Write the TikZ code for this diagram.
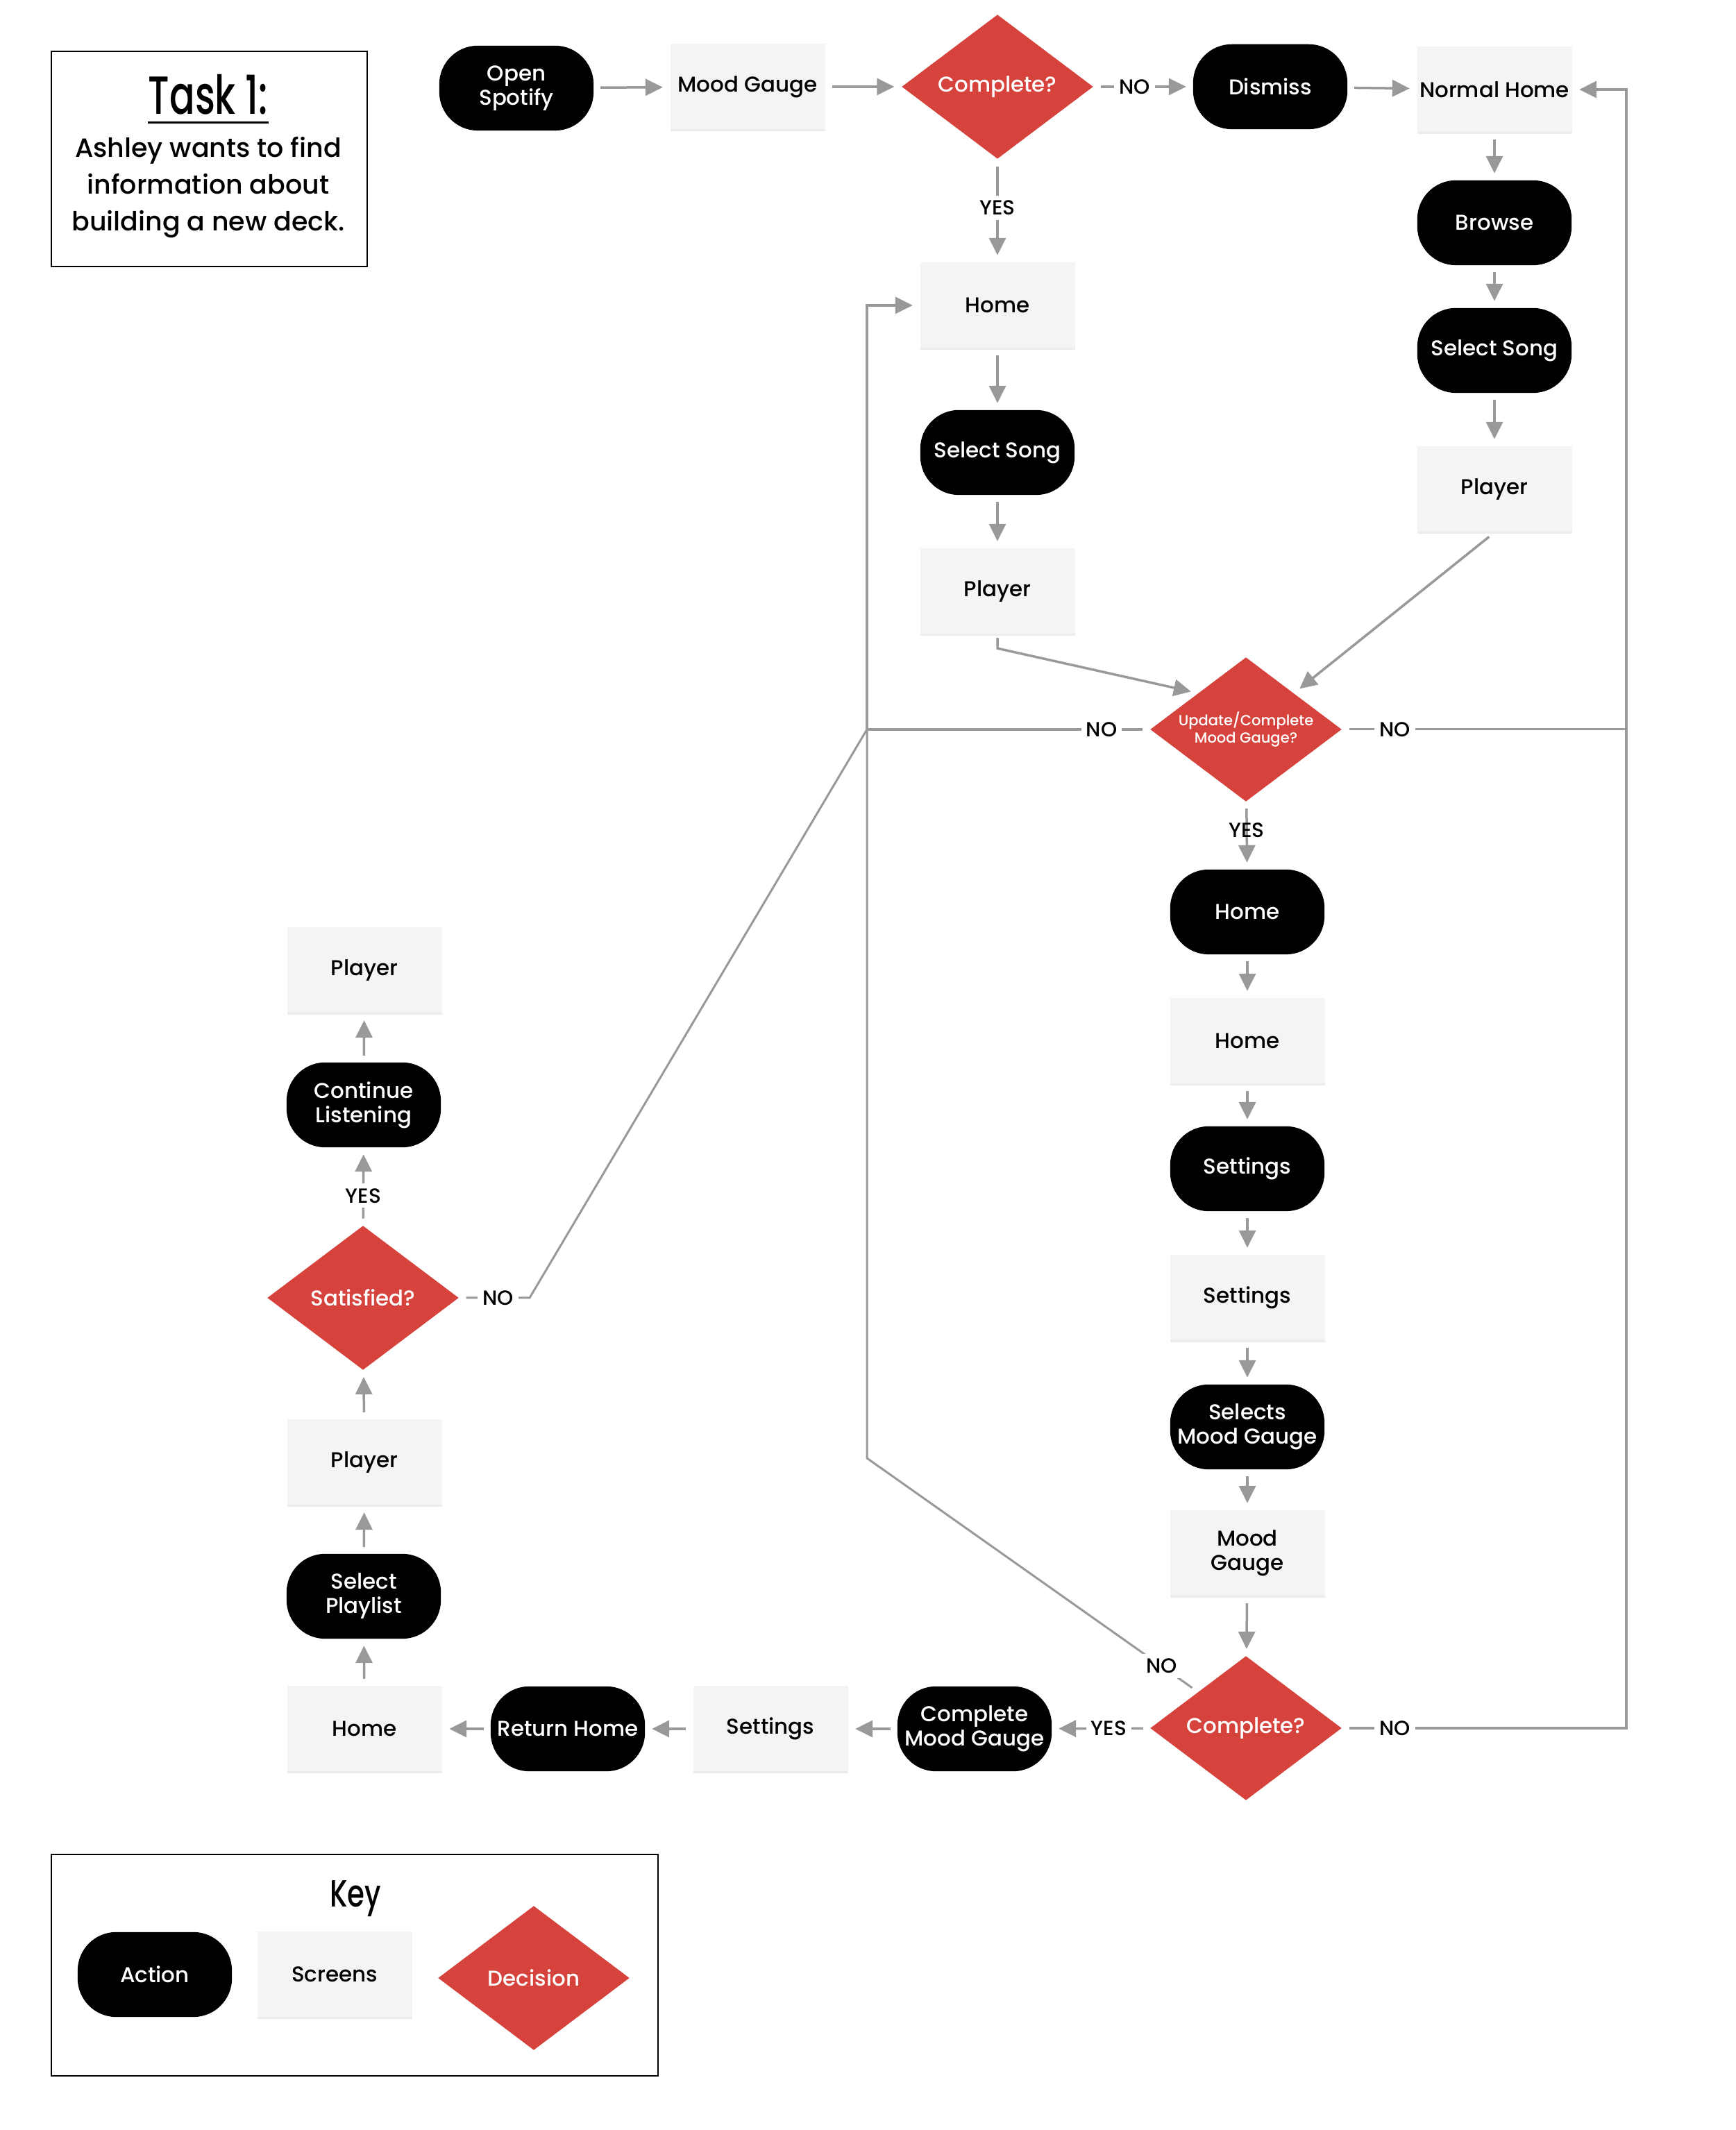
\documentclass[tikz,border=0pt]{standalone}
\usepackage{fontspec}
\setmainfont{Poppins Medium}
\usepackage{xcolor}
\usepackage{tikz}
\usetikzlibrary{shapes.geometric,arrows.meta,shadows}

\definecolor{deckred}{HTML}{D6433D}
\definecolor{screenfill}{HTML}{F4F4F2}
\definecolor{arrowgray}{HTML}{999999}

\begin{document}
\begin{tikzpicture}[
    font=\fontsize{8.8}{10}\selectfont,
    action/.style={
        draw=black,
        fill=black,
        text=white,
        rectangle,
        rounded corners=0.55cm,
        align=center,
        minimum width=2.21cm,
        minimum height=1.21cm,
        inner sep=0pt
    },
    screen/.style={
        fill=screenfill,
        rectangle,
        align=center,
        minimum width=2.23cm,
        minimum height=1.23cm,
        inner sep=0pt,
        drop shadow={opacity=0.15, shadow xshift=0pt, shadow yshift=-0.8pt}
    },
    decision/.style={
        diamond,
        aspect=1.33,
        fill=deckred,
        text=white,
        align=center,
        minimum width=2.76cm,
        minimum height=2.08cm,
        inner sep=0pt
    },
    frame/.style={draw, rectangle, line width=0.6pt},
    arrow/.style={-{Triangle[length=0.25cm,width=0.24cm]}, line width=0.035cm, draw=arrowgray, shorten >=0.1cm, shorten <=0.1cm},
    link/.style={line width=0.03cm, draw=arrowgray, shorten <=0.1cm},
    lbl/.style={fill=white, text=black, inner sep=2pt, font=\fontsize{8.4}{9}\selectfont},
    lblbare/.style={text=black, inner sep=2pt, font=\fontsize{8.4}{9}\selectfont}
]

\useasboundingbox (0,0) rectangle (25,30.69);

% Task box
\node[frame, minimum width=4.55cm, minimum height=3.10cm] (task) at (3.015,28.40) {};
\node[anchor=base, inner sep=0pt] (tasktitle) at (3.0,29.04) {\scalebox{0.7}[1]{\fontsize{22}{22}\selectfont Task 1:}};
\draw[line width=0.03cm] ([yshift=-0.12cm]tasktitle.base west) -- ([yshift=-0.12cm]tasktitle.base east);
\node[align=center, font=\fontsize{10.8}{15}\selectfont] (tasktext) at (3.0,27.99)
{Ashley wants to find\\information about\\building a new deck.};

% Top row
\node[action] (openspot) at (7.44,29.42) {Open\\Spotify};
\node[screen] (moodg) at (10.77,29.44) {Mood Gauge};
\node[decision] (comp1) at (14.37,29.44) {Complete?};
\node[action] (dismiss) at (18.30,29.44) {Dismiss};
\node[screen] (normhome) at (21.53,29.40) {Normal Home};

% Right column
\node[action] (browse) at (21.53,27.48) {Browse};
\node[action] (songR) at (21.53,25.64) {Select Song};
\node[screen] (playerR) at (21.53,23.64) {Player};

% Middle column
\node[screen] (homeM) at (14.37,26.29) {Home};
\node[action] (songM) at (14.37,24.17) {Select Song};
\node[screen] (playerM) at (14.37,22.17) {Player};

% Update decision
\node[decision, font=\fontsize{6}{7}\selectfont] (update) at (17.95,20.18) {Update/Complete\\Mood Gauge?};

% Settings column
\node[action] (homeact) at (17.97,17.55) {Home};
\node[screen] (homescr) at (17.97,15.69) {Home};
\node[action] (setact) at (17.97,13.85) {Settings};
\node[screen] (setscr) at (17.97,11.99) {Settings};
\node[action] (selmood) at (17.97,10.13) {Selects\\Mood Gauge};
\node[screen] (moodscr) at (17.97,8.31) {Mood\\Gauge};
\node[decision] (comp2) at (17.95,5.79) {Complete?};

% Bottom row
\node[action] (compmood) at (14.04,5.78) {Complete\\Mood Gauge};
\node[screen] (setscr2) at (11.10,5.78) {Settings};
\node[action] (rethome) at (8.18,5.78) {Return Home};
\node[screen] (homebot) at (5.25,5.78) {Home};

% Left column
\node[action] (selplay) at (5.24,7.69) {Select\\Playlist};
\node[screen] (playerbot) at (5.25,9.62) {Player};
\node[decision] (satis) at (5.23,11.99) {Satisfied?};
\node[action] (contlist) at (5.24,14.77) {Continue\\Listening};
\node[screen] (playertop) at (5.25,16.71) {Player};

% Line corners
\coordinate (jtop) at (12.49,26.29);
\coordinate (jleft) at (12.49,20.18);
\coordinate (jlow) at (12.49,9.68);
\coordinate (sbend) at (7.63,11.99);
\coordinate (rtop) at (23.43,29.40);
\coordinate (rmid) at (23.43,20.18);
\coordinate (rbot) at (23.43,5.79);

% Key
\node[frame, minimum width=8.74cm, minimum height=3.19cm] (key) at (5.11,2.375) {};
\node[anchor=base, inner sep=0pt] (keytitle) at (5.12,3.21) {\scalebox{0.74}[1]{\fontsize{15.5}{15.5}\selectfont Key}};
\node[action] (keyact) at (2.23,2.24) {Action};
\node[screen] (keyscr) at (4.82,2.24) {Screens};
\node[decision] (keydec) at (7.69,2.19) {Decision};

% Arrows: top row
\draw[arrow] (openspot) -- (moodg);
\draw[arrow] (moodg) -- (comp1);
\draw[arrow] (comp1) -- node[lbl, pos=0.41] {NO} (dismiss);
\draw[arrow] (dismiss) -- (normhome);
\draw[arrow] (comp1) -- node[lbl, pos=0.47] {YES} (homeM);

% Arrows: right column
\draw[arrow] (normhome) -- (browse);
\draw[arrow] (browse) -- (songR);
\draw[arrow] (songR) -- (playerR);
\draw[arrow] (playerR.south) -- (update.north east);

% Arrows: middle column
\draw[arrow] (homeM) -- (songM);
\draw[arrow] (songM) -- (playerM);
\draw[arrow, shorten <=0.05cm] (playerM.south) -- ++(0,-0.2) -- (update.north west);

% Arrows: update decision
\draw[arrow] (update) -- node[lblbare, pos=0.42] {YES} (homeact);
\draw[arrow] (update.west) -- node[lbl, pos=0.17] {NO} (jleft) -- (jtop) -- (homeM.west);
\draw[link] (update.east) -- node[lbl, pos=0.185] {NO} (rmid);

% Arrows: settings column
\draw[arrow] (homeact) -- (homescr);
\draw[arrow] (homescr) -- (setact);
\draw[arrow] (setact) -- (setscr);
\draw[arrow] (setscr) -- (selmood);
\draw[arrow] (selmood) -- (moodscr);
\draw[arrow] (moodscr) -- (comp2);

% Arrows: complete decision
\draw[arrow] (comp2) -- node[lbl, pos=0.42] {YES} (compmood);
\draw[link] (comp2.north west) -- node[lbl, pos=0.11] {NO} (jlow) -- (jleft);
\draw[arrow] (comp2.east) -- node[lbl, pos=0.185] {NO} (rbot) -- (rtop) -- (normhome.east);

% Arrows: bottom row and left column
\draw[arrow] (compmood) -- (setscr2);
\draw[arrow] (setscr2) -- (rethome);
\draw[arrow] (rethome) -- (homebot);
\draw[arrow] (homebot) -- (selplay);
\draw[arrow] (selplay) -- (playerbot);
\draw[arrow] (playerbot) -- (satis);
\draw[arrow] (satis) -- node[lbl, pos=0.38] {YES} (contlist);
\draw[arrow] (contlist) -- (playertop);
\draw[link] (satis.east) -- node[lbl, pos=0.55] {NO} (sbend) -- (jleft);

\end{tikzpicture}
\end{document}
